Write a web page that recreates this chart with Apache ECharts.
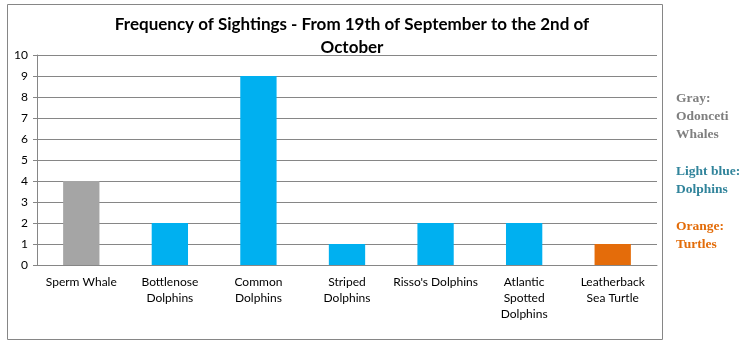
<!DOCTYPE html>
<html><head><meta charset="utf-8">
<script src="https://cdn.jsdelivr.net/npm/echarts@6/dist/echarts.min.js"></script>
<style>html,body{margin:0;padding:0;background:#fff}#c{width:746px;height:345px}</style>
</head><body><div id="c"></div>
<script>
const categories = ['Sperm Whale','Bottlenose\nDolphins','Common\nDolphins','Striped\nDolphins',"Risso's Dolphins",'Atlantic\nSpotted\nDolphins','Leatherback\nSea Turtle'];
const sightings = [4, 2, 9, 1, 2, 2, 1];
const groups = ['whale','dolphin','dolphin','dolphin','dolphin','dolphin','turtle'];
const yTicks = [0,1,2,3,4,5,6,7,8,9,10];
const colors = {whale:'#a5a5a5', dolphin:'#00b0f0', turtle:'#e46c0a'};
const chart = echarts.init(document.getElementById('c'));
chart.setOption({
  animation:false,
  title:{text:'Frequency of Sightings - From 19th of September to the 2nd of\nOctober', left:347, top:8, textAlign:'center',
    textStyle:{fontFamily:'Lato', fontWeight:'bold', fontSize:17, lineHeight:23, color:'#000'}},
  grid:{left:37, right:89, top:55, bottom:80},
  xAxis:{type:'category', data:categories,
    axisLine:{lineStyle:{color:'#868686'}}, axisTick:{lineStyle:{color:'#868686'}, length:5},
    axisLabel:{interval:0, color:'#000', fontFamily:'Lato', fontSize:12, lineHeight:16, margin:9}},
  yAxis:{type:'value', min:yTicks[0], max:yTicks[yTicks.length-1], interval:1,
    axisLine:{show:true, lineStyle:{color:'#868686'}}, axisTick:{show:true, inside:false, length:4, lineStyle:{color:'#868686'}},
    splitLine:{lineStyle:{color:'#868686'}},
    axisLabel:{color:'#000', fontFamily:'Lato', fontSize:12, margin:9}},
  series:[{type:'bar', barWidth:'41%',
    data:sightings.map((v,i)=>({value:v, itemStyle:{color:colors[groups[i]]}}))}],
  graphic:[
    {type:'rect', shape:{x:7.5,y:4.5,width:655,height:335}, style:{fill:'none', stroke:'#868686', lineWidth:1}, silent:true, z:-1},
    {type:'text', left:676, top:90, style:{text:'Gray:\nOdonceti\nWhales', fill:'#7f7f7f', font:'bold 13.5px "Liberation Serif"', lineHeight:18}},
    {type:'text', left:676, top:163, style:{text:'Light blue:\nDolphins', fill:'#31849b', font:'bold 13.5px "Liberation Serif"', lineHeight:18}},
    {type:'text', left:676, top:218, style:{text:'Orange:\nTurtles', fill:'#e36c09', font:'bold 13.5px "Liberation Serif"', lineHeight:18}}
  ]
});
</script></body></html>
